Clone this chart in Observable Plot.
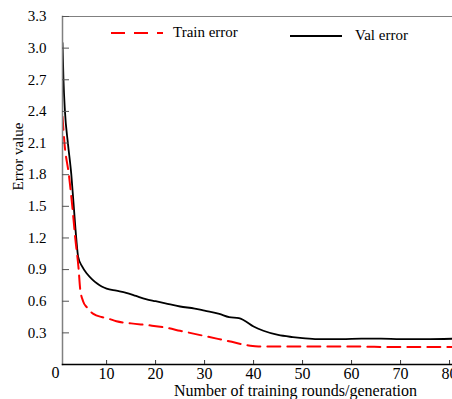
<!DOCTYPE html>
<html>
<head>
<meta charset="utf-8">
<script src="https://cdn.jsdelivr.net/npm/d3@7"></script>
<script src="https://cdn.jsdelivr.net/npm/@observablehq/plot@0.6"></script>
<style>
  body { margin: 0; background: #fff; }
  #wrap { position: relative; width: 452px; height: 399px; font-family: "Liberation Serif", "DejaVu Serif", serif; }
  #wrap svg { display: block; }
  #wrap svg, #wrap svg text { font-family: "Liberation Serif", "DejaVu Serif", serif !important; }
  .leg { position: absolute; font-size: 15px; color: #000; white-space: nowrap; line-height: 1; }
</style>
</head>
<body>
<div id="wrap"></div>
<script>
// Epochs and error values
const trainEpoch = [1, 1.4, 2.3, 3.0, 3.6, 4.3, 4.6, 5.2, 6, 7.3, 9, 10, 12, 15, 19, 22, 25, 30, 35, 39, 41, 50, 60, 70, 81];
const trainError = [2.35, 2.1, 1.8, 1.5, 1.2, 0.9, 0.72, 0.6, 0.54, 0.48, 0.45, 0.44, 0.41, 0.39, 0.37, 0.35, 0.32, 0.27, 0.22, 0.18, 0.17, 0.17, 0.17, 0.165, 0.165];

const valEpoch = [1, 1.2, 1.5, 2.1, 2.8, 3.3, 3.8, 4.2, 5, 6, 7, 8, 9, 10, 12, 14, 16, 18, 20, 22, 25, 28, 30, 33, 35, 37, 38, 40, 42, 45, 48, 50, 53, 58, 62, 66, 70, 75, 81];
const valError = [3.05, 2.7, 2.4, 2.1, 1.8, 1.5, 1.2, 1.02, 0.93, 0.86, 0.81, 0.77, 0.74, 0.72, 0.70, 0.68, 0.65, 0.62, 0.60, 0.58, 0.55, 0.53, 0.51, 0.48, 0.45, 0.44, 0.42, 0.36, 0.32, 0.28, 0.26, 0.25, 0.24, 0.24, 0.245, 0.245, 0.24, 0.24, 0.245];

const yTicks = [0.3, 0.6, 0.9, 1.2, 1.5, 1.8, 2.1, 2.4, 2.7, 3.0, 3.3];
const xTicks = [10, 20, 30, 40, 50, 60, 70, 80];

const train = trainEpoch.map((x, i) => ({x, y: trainError[i]}));
const val = valEpoch.map((x, i) => ({x, y: valError[i]}));

const font = "Liberation Serif";

const chart = Plot.plot({
  width: 452,
  height: 399,
  marginLeft: 62,
  marginRight: 0,
  marginTop: 16,
  marginBottom: 35,
  style: {fontFamily: font, fontSize: "14px", background: "#fff", color: "#000"},
  x: {domain: [1, 80.6]},
  y: {domain: [0, 3.3]},
  marks: [
    Plot.line(val, {x: "x", y: "y", stroke: "#000", strokeWidth: 1.8, curve: "monotone-x", clip: true}),
    Plot.line(train, {x: "x", y: "y", stroke: "#ff0000", strokeWidth: 2, strokeDasharray: "13,7", curve: "monotone-x", clip: true}),
    Plot.frame({anchor: "left", stroke: "#808080", strokeWidth: 1.5}),
    Plot.frame({anchor: "top", stroke: "#808080", strokeWidth: 1}),
    Plot.frame({anchor: "bottom", stroke: "#000", strokeWidth: 1.5}),
    Plot.axisY({ticks: yTicks, tickSize: -7, tickPadding: 23, stroke: "#555", label: null, fontSize: 15, tickFormat: d3.format(".1f")}),
    Plot.axisX({ticks: xTicks, tickSize: -4, tickPadding: 7, stroke: "#333", label: null, fontSize: 16}),
    Plot.axisX({ticks: [1], tickSize: 0, tickPadding: 2, tickFormat: () => "0", dx: -7, label: null, fontSize: 16}),
    Plot.text(["Number of training rounds/generation"], {frameAnchor: "bottom", dy: 26, dx: 38, text: d => d, fontSize: 16, lineAnchor: "middle"}),
    Plot.text(["Error value"], {frameAnchor: "left", dx: -44, rotate: -90, text: d => d, fontSize: 15, lineAnchor: "middle"})
  ]
});

const wrap = document.getElementById("wrap");
wrap.appendChild(chart);

function legendItem(left, top, label, dash, color, textLeft) {
  const ns = "http://www.w3.org/2000/svg";
  const s = document.createElementNS(ns, "svg");
  s.setAttribute("width", 54); s.setAttribute("height", 6);
  s.style.position = "absolute"; s.style.left = left + "px"; s.style.top = (top - 3) + "px";
  const l = document.createElementNS(ns, "line");
  l.setAttribute("x1", 0); l.setAttribute("x2", 52); l.setAttribute("y1", 3); l.setAttribute("y2", 3);
  l.setAttribute("stroke", color); l.setAttribute("stroke-width", 2);
  if (dash) l.setAttribute("stroke-dasharray", dash);
  s.appendChild(l);
  wrap.appendChild(s);
  const t = document.createElement("div");
  t.className = "leg"; t.textContent = label;
  t.style.left = textLeft + "px"; t.style.top = (top - 8) + "px";
  wrap.appendChild(t);
}
legendItem(111, 33, "Train error", "14,9", "#ff0000", 173);
legendItem(290, 36, "Val error", null, "#000", 355);
</script>
</body>
</html>
